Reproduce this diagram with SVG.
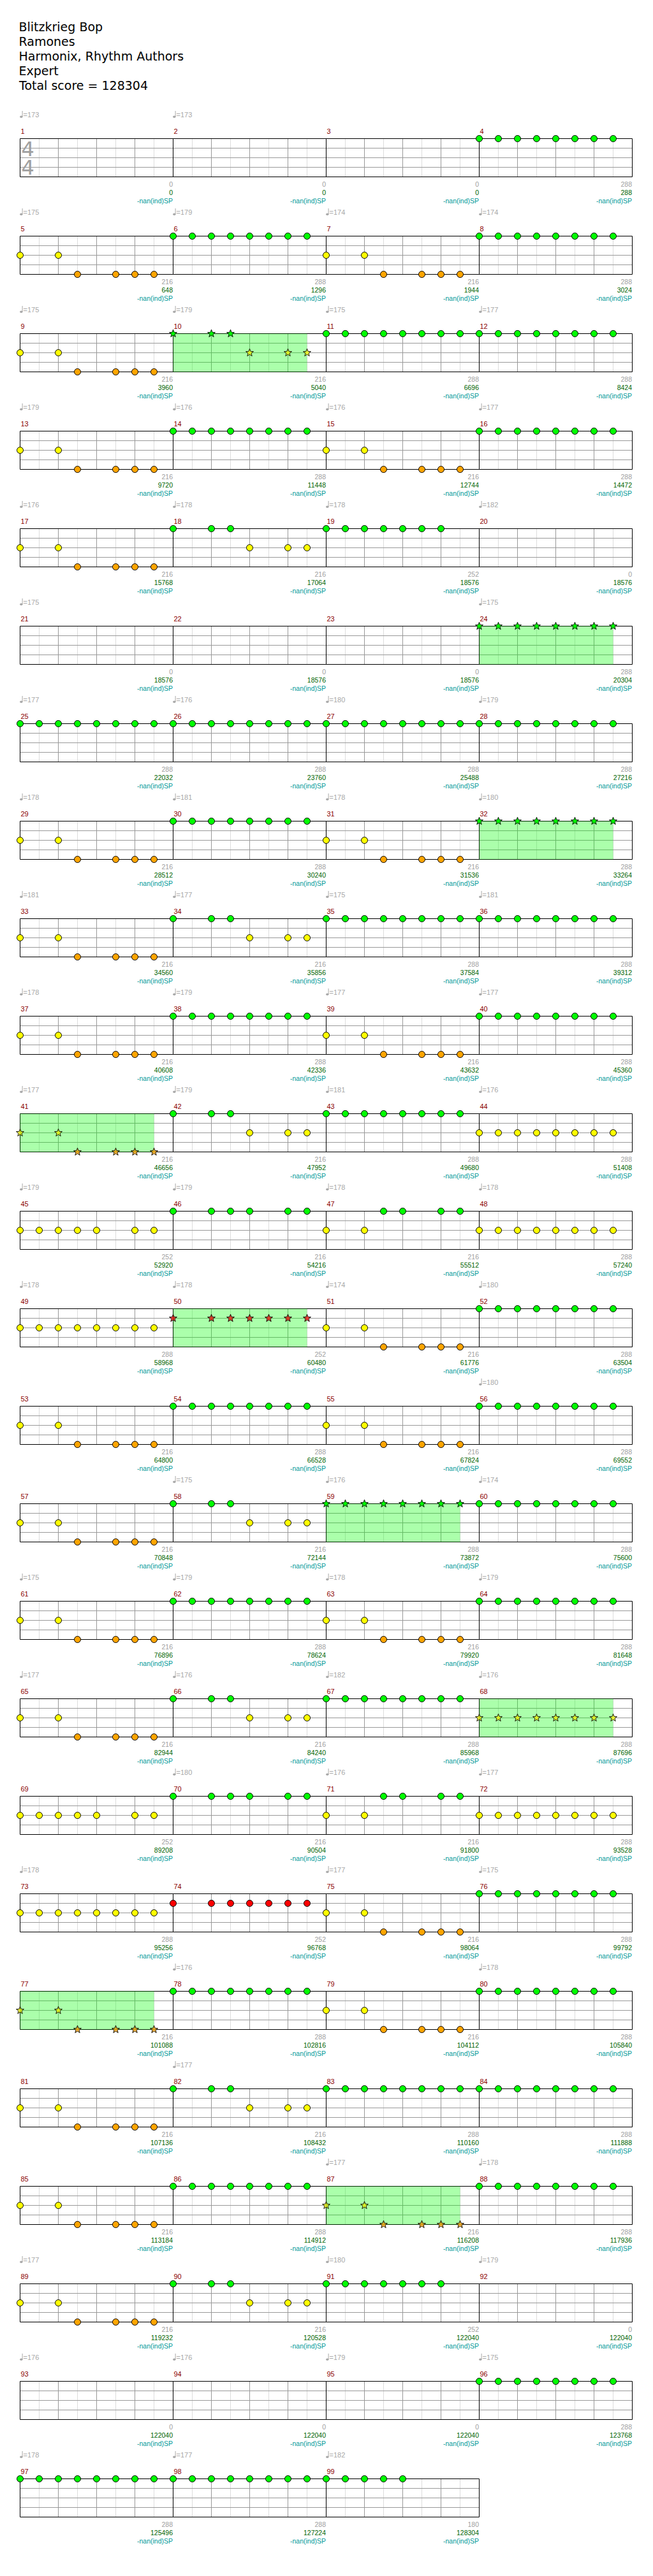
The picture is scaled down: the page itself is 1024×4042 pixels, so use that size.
<svg xmlns="http://www.w3.org/2000/svg" width="1024" height="4042" viewBox="0 0 1024 4042">
<style>
.cg{fill:#00ff00;stroke:#000;stroke-width:1}
.cy{fill:#ffff00;stroke:#000;stroke-width:1}
.co{fill:#ffa500;stroke:#000;stroke-width:1}
.cr{fill:#ff0000;stroke:#000;stroke-width:1}
.sg{fill:#00ff00}
.sy{fill:#ffff00;fill-opacity:.7}
.so{fill:#ffa500;fill-opacity:.75}
.sr{fill:#ff0000;fill-opacity:.7}
.sp{fill:#00ff00;fill-opacity:.33}
.gl{stroke:#dddddd;stroke-width:1;fill:none}
.gm{stroke:#999999;stroke-width:1;fill:none}
.gk{stroke:#000;stroke-width:1;fill:none}
.mn{font-family:"Liberation Sans",Arial,sans-serif;font-size:11px;fill:#8b0000}
.tq{font-family:"Liberation Sans",Arial,sans-serif;font-size:11px;fill:#a8a8a8}
.b1,.b2,.b3{font-family:"Liberation Sans",Arial,sans-serif;font-size:10.5px;text-anchor:end}
.b1{fill:#a0a0a0}
.b2{fill:#006400}
.b3{fill:#009999}
.ts{font-family:"DejaVu Sans",sans-serif;font-size:32px;fill:#a0a0a0}
.hd{font-family:"DejaVu Sans",sans-serif;font-size:19px;fill:#000}
</style>
<defs>
<path id="st" d="M0,-6.3L1.54,-2.12L5.99,-1.95L2.5,0.81L3.7,5.1L0,2.63L-3.7,5.1L-2.5,0.81L-5.99,-1.95L-1.54,-2.12Z" stroke="#000" stroke-width="0.9"/>
<g id="q" fill="#a8a8a8"><ellipse cx="1.8" cy="-34.3" rx="2.2" ry="1.7"/><path d="M3.6,-34.5V-43.5" stroke="#a8a8a8" stroke-width="1"/></g>
<g id="grid">
<path class="gl" d="M30,0V60M90,0V60M150,0V60M210,0V60"/>
<path class="gm" d="M60,0V60M120,0V60M180,0V60M0,15H240M0,30H240M0,45H240"/>
<path class="gk" d="M0,0H240M0,60H240M0,0V60M240,0V60"/>
</g>
<g id="pG8"><circle class="cg" cx="0" cy="0" r="5"/><circle class="cg" cx="30" cy="0" r="5"/><circle class="cg" cx="60" cy="0" r="5"/><circle class="cg" cx="90" cy="0" r="5"/><circle class="cg" cx="120" cy="0" r="5"/><circle class="cg" cx="150" cy="0" r="5"/><circle class="cg" cx="180" cy="0" r="5"/><circle class="cg" cx="210" cy="0" r="5"/></g>
<g id="pG7"><circle class="cg" cx="0" cy="0" r="5"/><circle class="cg" cx="30" cy="0" r="5"/><circle class="cg" cx="60" cy="0" r="5"/><circle class="cg" cx="90" cy="0" r="5"/><circle class="cg" cx="120" cy="0" r="5"/><circle class="cg" cx="150" cy="0" r="5"/><circle class="cg" cx="180" cy="0" r="5"/></g>
<g id="pG5"><circle class="cg" cx="0" cy="0" r="5"/><circle class="cg" cx="30" cy="0" r="5"/><circle class="cg" cx="60" cy="0" r="5"/><circle class="cg" cx="90" cy="0" r="5"/><circle class="cg" cx="120" cy="0" r="5"/></g>
<g id="pA"><circle class="cy" cx="0" cy="30" r="5"/><circle class="cy" cx="60" cy="30" r="5"/><circle class="co" cx="90" cy="60" r="5"/><circle class="co" cx="150" cy="60" r="5"/><circle class="co" cx="180" cy="60" r="5"/><circle class="co" cx="210" cy="60" r="5"/></g>
<g id="pB"><circle class="cg" cx="0" cy="0" r="5"/><circle class="cg" cx="60" cy="0" r="5"/><circle class="cg" cx="90" cy="0" r="5"/><circle class="cy" cx="120" cy="30" r="5"/><circle class="cy" cx="180" cy="30" r="5"/><circle class="cy" cx="210" cy="30" r="5"/></g>
<g id="pY8"><circle class="cy" cx="0" cy="30" r="5"/><circle class="cy" cx="30" cy="30" r="5"/><circle class="cy" cx="60" cy="30" r="5"/><circle class="cy" cx="90" cy="30" r="5"/><circle class="cy" cx="120" cy="30" r="5"/><circle class="cy" cx="150" cy="30" r="5"/><circle class="cy" cx="180" cy="30" r="5"/><circle class="cy" cx="210" cy="30" r="5"/></g>
<g id="pY7"><circle class="cy" cx="0" cy="30" r="5"/><circle class="cy" cx="30" cy="30" r="5"/><circle class="cy" cx="60" cy="30" r="5"/><circle class="cy" cx="90" cy="30" r="5"/><circle class="cy" cx="120" cy="30" r="5"/><circle class="cy" cx="180" cy="30" r="5"/><circle class="cy" cx="210" cy="30" r="5"/></g>
<g id="pC"><circle class="cg" cx="0" cy="0" r="5"/><circle class="cg" cx="60" cy="0" r="5"/><circle class="cg" cx="90" cy="0" r="5"/><circle class="cg" cx="120" cy="0" r="5"/><circle class="cg" cx="180" cy="0" r="5"/><circle class="cg" cx="210" cy="0" r="5"/></g>
<g id="pD"><circle class="cy" cx="0" cy="30" r="5"/><circle class="cy" cx="60" cy="30" r="5"/><circle class="cg" cx="90" cy="0" r="5"/><circle class="cg" cx="120" cy="0" r="5"/><circle class="cg" cx="180" cy="0" r="5"/><circle class="cg" cx="210" cy="0" r="5"/></g>
<g id="pR7"><circle class="cr" cx="0" cy="15" r="5"/><circle class="cr" cx="60" cy="15" r="5"/><circle class="cr" cx="90" cy="15" r="5"/><circle class="cr" cx="120" cy="15" r="5"/><circle class="cr" cx="150" cy="15" r="5"/><circle class="cr" cx="180" cy="15" r="5"/><circle class="cr" cx="210" cy="15" r="5"/></g>
<g id="sA"><rect class="sp" x="0" y="0" width="210" height="60"/><use href="#st" class="sg" x="0" y="0"/><use href="#st" class="sg" x="60" y="0"/><use href="#st" class="sg" x="90" y="0"/><use href="#st" class="sy" x="120" y="30"/><use href="#st" class="sy" x="180" y="30"/><use href="#st" class="sy" x="210" y="30"/></g>
<g id="sG"><rect class="sp" x="0" y="0" width="210" height="60"/><use href="#st" class="sg" x="0" y="0"/><use href="#st" class="sg" x="30" y="0"/><use href="#st" class="sg" x="60" y="0"/><use href="#st" class="sg" x="90" y="0"/><use href="#st" class="sg" x="120" y="0"/><use href="#st" class="sg" x="150" y="0"/><use href="#st" class="sg" x="180" y="0"/><use href="#st" class="sg" x="210" y="0"/></g>
<g id="sY"><rect class="sp" x="0" y="0" width="210" height="60"/><use href="#st" class="sy" x="0" y="30"/><use href="#st" class="sy" x="30" y="30"/><use href="#st" class="sy" x="60" y="30"/><use href="#st" class="sy" x="90" y="30"/><use href="#st" class="sy" x="120" y="30"/><use href="#st" class="sy" x="150" y="30"/><use href="#st" class="sy" x="180" y="30"/><use href="#st" class="sy" x="210" y="30"/></g>
<g id="sO"><rect class="sp" x="0" y="0" width="210" height="60"/><use href="#st" class="sy" x="0" y="30"/><use href="#st" class="sy" x="60" y="30"/><use href="#st" class="so" x="90" y="60"/><use href="#st" class="so" x="150" y="60"/><use href="#st" class="so" x="180" y="60"/><use href="#st" class="so" x="210" y="60"/></g>
<g id="sR"><rect class="sp" x="0" y="0" width="210" height="60"/><use href="#st" class="sr" x="0" y="15"/><use href="#st" class="sr" x="60" y="15"/><use href="#st" class="sr" x="90" y="15"/><use href="#st" class="sr" x="120" y="15"/><use href="#st" class="sr" x="150" y="15"/><use href="#st" class="sr" x="180" y="15"/><use href="#st" class="sr" x="210" y="15"/></g>
</defs>
<rect x="0" y="0" width="1024" height="4042" fill="#fff"/>
<g id="header">
<text class="hd" x="29.5" y="49.3">Blitzkrieg Bop</text>
<text class="hd" x="29.5" y="72">Ramones</text>
<text class="hd" x="29.5" y="95">Harmonix, Rhythm Authors</text>
<text class="hd" x="29.5" y="118">Expert</text>
<text class="hd" x="30" y="140.7">Total score = 128304</text>
</g>
<g id="m1" transform="translate(31.5,217.5)"><use href="#grid"/><text class="ts"><tspan x="2" y="27.5">4</tspan><tspan x="2" y="56.5">4</tspan></text><text class="mn" x="1" y="-7.5">1</text><use href="#q"/><text class="tq" x="5" y="-34">=173</text><text class="b1" x="239.5" y="75.5">0</text><text class="b2" x="239.5" y="88.5">0</text><text class="b3" x="239.5" y="101">-nan(ind)SP</text></g>
<g id="m2" transform="translate(271.5,217.5)"><use href="#grid"/><text class="mn" x="1" y="-7.5">2</text><use href="#q"/><text class="tq" x="5" y="-34">=173</text><text class="b1" x="239.5" y="75.5">0</text><text class="b2" x="239.5" y="88.5">0</text><text class="b3" x="239.5" y="101">-nan(ind)SP</text></g>
<g id="m3" transform="translate(511.5,217.5)"><use href="#grid"/><text class="mn" x="1" y="-7.5">3</text><text class="b1" x="239.5" y="75.5">0</text><text class="b2" x="239.5" y="88.5">0</text><text class="b3" x="239.5" y="101">-nan(ind)SP</text></g>
<g id="m4" transform="translate(751.5,217.5)"><use href="#grid"/><use href="#pG8"/><text class="mn" x="1" y="-7.5">4</text><text class="b1" x="239.5" y="75.5">288</text><text class="b2" x="239.5" y="88.5">288</text><text class="b3" x="239.5" y="101">-nan(ind)SP</text></g>
<g id="m5" transform="translate(31.5,370.5)"><use href="#grid"/><use href="#pA"/><text class="mn" x="1" y="-7.5">5</text><use href="#q"/><text class="tq" x="5" y="-34">=175</text><text class="b1" x="239.5" y="75.5">216</text><text class="b2" x="239.5" y="88.5">648</text><text class="b3" x="239.5" y="101">-nan(ind)SP</text></g>
<g id="m6" transform="translate(271.5,370.5)"><use href="#grid"/><use href="#pG8"/><text class="mn" x="1" y="-7.5">6</text><use href="#q"/><text class="tq" x="5" y="-34">=179</text><text class="b1" x="239.5" y="75.5">288</text><text class="b2" x="239.5" y="88.5">1296</text><text class="b3" x="239.5" y="101">-nan(ind)SP</text></g>
<g id="m7" transform="translate(511.5,370.5)"><use href="#grid"/><use href="#pA"/><text class="mn" x="1" y="-7.5">7</text><use href="#q"/><text class="tq" x="5" y="-34">=174</text><text class="b1" x="239.5" y="75.5">216</text><text class="b2" x="239.5" y="88.5">1944</text><text class="b3" x="239.5" y="101">-nan(ind)SP</text></g>
<g id="m8" transform="translate(751.5,370.5)"><use href="#grid"/><use href="#pG8"/><text class="mn" x="1" y="-7.5">8</text><use href="#q"/><text class="tq" x="5" y="-34">=174</text><text class="b1" x="239.5" y="75.5">288</text><text class="b2" x="239.5" y="88.5">3024</text><text class="b3" x="239.5" y="101">-nan(ind)SP</text></g>
<g id="m9" transform="translate(31.5,523.5)"><use href="#grid"/><use href="#pA"/><text class="mn" x="1" y="-7.5">9</text><use href="#q"/><text class="tq" x="5" y="-34">=175</text><text class="b1" x="239.5" y="75.5">216</text><text class="b2" x="239.5" y="88.5">3960</text><text class="b3" x="239.5" y="101">-nan(ind)SP</text></g>
<g id="m10" transform="translate(271.5,523.5)"><use href="#grid"/><use href="#sA"/><text class="mn" x="1" y="-7.5">10</text><use href="#q"/><text class="tq" x="5" y="-34">=179</text><text class="b1" x="239.5" y="75.5">216</text><text class="b2" x="239.5" y="88.5">5040</text><text class="b3" x="239.5" y="101">-nan(ind)SP</text></g>
<g id="m11" transform="translate(511.5,523.5)"><use href="#grid"/><use href="#pG8"/><text class="mn" x="1" y="-7.5">11</text><use href="#q"/><text class="tq" x="5" y="-34">=175</text><text class="b1" x="239.5" y="75.5">288</text><text class="b2" x="239.5" y="88.5">6696</text><text class="b3" x="239.5" y="101">-nan(ind)SP</text></g>
<g id="m12" transform="translate(751.5,523.5)"><use href="#grid"/><use href="#pG8"/><text class="mn" x="1" y="-7.5">12</text><use href="#q"/><text class="tq" x="5" y="-34">=177</text><text class="b1" x="239.5" y="75.5">288</text><text class="b2" x="239.5" y="88.5">8424</text><text class="b3" x="239.5" y="101">-nan(ind)SP</text></g>
<g id="m13" transform="translate(31.5,676.5)"><use href="#grid"/><use href="#pA"/><text class="mn" x="1" y="-7.5">13</text><use href="#q"/><text class="tq" x="5" y="-34">=179</text><text class="b1" x="239.5" y="75.5">216</text><text class="b2" x="239.5" y="88.5">9720</text><text class="b3" x="239.5" y="101">-nan(ind)SP</text></g>
<g id="m14" transform="translate(271.5,676.5)"><use href="#grid"/><use href="#pG8"/><text class="mn" x="1" y="-7.5">14</text><use href="#q"/><text class="tq" x="5" y="-34">=176</text><text class="b1" x="239.5" y="75.5">288</text><text class="b2" x="239.5" y="88.5">11448</text><text class="b3" x="239.5" y="101">-nan(ind)SP</text></g>
<g id="m15" transform="translate(511.5,676.5)"><use href="#grid"/><use href="#pA"/><text class="mn" x="1" y="-7.5">15</text><use href="#q"/><text class="tq" x="5" y="-34">=176</text><text class="b1" x="239.5" y="75.5">216</text><text class="b2" x="239.5" y="88.5">12744</text><text class="b3" x="239.5" y="101">-nan(ind)SP</text></g>
<g id="m16" transform="translate(751.5,676.5)"><use href="#grid"/><use href="#pG8"/><text class="mn" x="1" y="-7.5">16</text><use href="#q"/><text class="tq" x="5" y="-34">=177</text><text class="b1" x="239.5" y="75.5">288</text><text class="b2" x="239.5" y="88.5">14472</text><text class="b3" x="239.5" y="101">-nan(ind)SP</text></g>
<g id="m17" transform="translate(31.5,829.5)"><use href="#grid"/><use href="#pA"/><text class="mn" x="1" y="-7.5">17</text><use href="#q"/><text class="tq" x="5" y="-34">=176</text><text class="b1" x="239.5" y="75.5">216</text><text class="b2" x="239.5" y="88.5">15768</text><text class="b3" x="239.5" y="101">-nan(ind)SP</text></g>
<g id="m18" transform="translate(271.5,829.5)"><use href="#grid"/><use href="#pB"/><text class="mn" x="1" y="-7.5">18</text><use href="#q"/><text class="tq" x="5" y="-34">=178</text><text class="b1" x="239.5" y="75.5">216</text><text class="b2" x="239.5" y="88.5">17064</text><text class="b3" x="239.5" y="101">-nan(ind)SP</text></g>
<g id="m19" transform="translate(511.5,829.5)"><use href="#grid"/><use href="#pG7"/><text class="mn" x="1" y="-7.5">19</text><use href="#q"/><text class="tq" x="5" y="-34">=178</text><text class="b1" x="239.5" y="75.5">252</text><text class="b2" x="239.5" y="88.5">18576</text><text class="b3" x="239.5" y="101">-nan(ind)SP</text></g>
<g id="m20" transform="translate(751.5,829.5)"><use href="#grid"/><text class="mn" x="1" y="-7.5">20</text><use href="#q"/><text class="tq" x="5" y="-34">=182</text><text class="b1" x="239.5" y="75.5">0</text><text class="b2" x="239.5" y="88.5">18576</text><text class="b3" x="239.5" y="101">-nan(ind)SP</text></g>
<g id="m21" transform="translate(31.5,982.5)"><use href="#grid"/><text class="mn" x="1" y="-7.5">21</text><use href="#q"/><text class="tq" x="5" y="-34">=175</text><text class="b1" x="239.5" y="75.5">0</text><text class="b2" x="239.5" y="88.5">18576</text><text class="b3" x="239.5" y="101">-nan(ind)SP</text></g>
<g id="m22" transform="translate(271.5,982.5)"><use href="#grid"/><text class="mn" x="1" y="-7.5">22</text><text class="b1" x="239.5" y="75.5">0</text><text class="b2" x="239.5" y="88.5">18576</text><text class="b3" x="239.5" y="101">-nan(ind)SP</text></g>
<g id="m23" transform="translate(511.5,982.5)"><use href="#grid"/><text class="mn" x="1" y="-7.5">23</text><text class="b1" x="239.5" y="75.5">0</text><text class="b2" x="239.5" y="88.5">18576</text><text class="b3" x="239.5" y="101">-nan(ind)SP</text></g>
<g id="m24" transform="translate(751.5,982.5)"><use href="#grid"/><use href="#sG"/><text class="mn" x="1" y="-7.5">24</text><use href="#q"/><text class="tq" x="5" y="-34">=175</text><text class="b1" x="239.5" y="75.5">288</text><text class="b2" x="239.5" y="88.5">20304</text><text class="b3" x="239.5" y="101">-nan(ind)SP</text></g>
<g id="m25" transform="translate(31.5,1135.5)"><use href="#grid"/><use href="#pG8"/><text class="mn" x="1" y="-7.5">25</text><use href="#q"/><text class="tq" x="5" y="-34">=177</text><text class="b1" x="239.5" y="75.5">288</text><text class="b2" x="239.5" y="88.5">22032</text><text class="b3" x="239.5" y="101">-nan(ind)SP</text></g>
<g id="m26" transform="translate(271.5,1135.5)"><use href="#grid"/><use href="#pG8"/><text class="mn" x="1" y="-7.5">26</text><use href="#q"/><text class="tq" x="5" y="-34">=176</text><text class="b1" x="239.5" y="75.5">288</text><text class="b2" x="239.5" y="88.5">23760</text><text class="b3" x="239.5" y="101">-nan(ind)SP</text></g>
<g id="m27" transform="translate(511.5,1135.5)"><use href="#grid"/><use href="#pG8"/><text class="mn" x="1" y="-7.5">27</text><use href="#q"/><text class="tq" x="5" y="-34">=180</text><text class="b1" x="239.5" y="75.5">288</text><text class="b2" x="239.5" y="88.5">25488</text><text class="b3" x="239.5" y="101">-nan(ind)SP</text></g>
<g id="m28" transform="translate(751.5,1135.5)"><use href="#grid"/><use href="#pG8"/><text class="mn" x="1" y="-7.5">28</text><use href="#q"/><text class="tq" x="5" y="-34">=179</text><text class="b1" x="239.5" y="75.5">288</text><text class="b2" x="239.5" y="88.5">27216</text><text class="b3" x="239.5" y="101">-nan(ind)SP</text></g>
<g id="m29" transform="translate(31.5,1288.5)"><use href="#grid"/><use href="#pA"/><text class="mn" x="1" y="-7.5">29</text><use href="#q"/><text class="tq" x="5" y="-34">=178</text><text class="b1" x="239.5" y="75.5">216</text><text class="b2" x="239.5" y="88.5">28512</text><text class="b3" x="239.5" y="101">-nan(ind)SP</text></g>
<g id="m30" transform="translate(271.5,1288.5)"><use href="#grid"/><use href="#pG8"/><text class="mn" x="1" y="-7.5">30</text><use href="#q"/><text class="tq" x="5" y="-34">=181</text><text class="b1" x="239.5" y="75.5">288</text><text class="b2" x="239.5" y="88.5">30240</text><text class="b3" x="239.5" y="101">-nan(ind)SP</text></g>
<g id="m31" transform="translate(511.5,1288.5)"><use href="#grid"/><use href="#pA"/><text class="mn" x="1" y="-7.5">31</text><use href="#q"/><text class="tq" x="5" y="-34">=178</text><text class="b1" x="239.5" y="75.5">216</text><text class="b2" x="239.5" y="88.5">31536</text><text class="b3" x="239.5" y="101">-nan(ind)SP</text></g>
<g id="m32" transform="translate(751.5,1288.5)"><use href="#grid"/><use href="#sG"/><text class="mn" x="1" y="-7.5">32</text><use href="#q"/><text class="tq" x="5" y="-34">=180</text><text class="b1" x="239.5" y="75.5">288</text><text class="b2" x="239.5" y="88.5">33264</text><text class="b3" x="239.5" y="101">-nan(ind)SP</text></g>
<g id="m33" transform="translate(31.5,1441.5)"><use href="#grid"/><use href="#pA"/><text class="mn" x="1" y="-7.5">33</text><use href="#q"/><text class="tq" x="5" y="-34">=181</text><text class="b1" x="239.5" y="75.5">216</text><text class="b2" x="239.5" y="88.5">34560</text><text class="b3" x="239.5" y="101">-nan(ind)SP</text></g>
<g id="m34" transform="translate(271.5,1441.5)"><use href="#grid"/><use href="#pB"/><text class="mn" x="1" y="-7.5">34</text><use href="#q"/><text class="tq" x="5" y="-34">=177</text><text class="b1" x="239.5" y="75.5">216</text><text class="b2" x="239.5" y="88.5">35856</text><text class="b3" x="239.5" y="101">-nan(ind)SP</text></g>
<g id="m35" transform="translate(511.5,1441.5)"><use href="#grid"/><use href="#pG8"/><text class="mn" x="1" y="-7.5">35</text><use href="#q"/><text class="tq" x="5" y="-34">=175</text><text class="b1" x="239.5" y="75.5">288</text><text class="b2" x="239.5" y="88.5">37584</text><text class="b3" x="239.5" y="101">-nan(ind)SP</text></g>
<g id="m36" transform="translate(751.5,1441.5)"><use href="#grid"/><use href="#pG8"/><text class="mn" x="1" y="-7.5">36</text><use href="#q"/><text class="tq" x="5" y="-34">=181</text><text class="b1" x="239.5" y="75.5">288</text><text class="b2" x="239.5" y="88.5">39312</text><text class="b3" x="239.5" y="101">-nan(ind)SP</text></g>
<g id="m37" transform="translate(31.5,1594.5)"><use href="#grid"/><use href="#pA"/><text class="mn" x="1" y="-7.5">37</text><use href="#q"/><text class="tq" x="5" y="-34">=178</text><text class="b1" x="239.5" y="75.5">216</text><text class="b2" x="239.5" y="88.5">40608</text><text class="b3" x="239.5" y="101">-nan(ind)SP</text></g>
<g id="m38" transform="translate(271.5,1594.5)"><use href="#grid"/><use href="#pG8"/><text class="mn" x="1" y="-7.5">38</text><use href="#q"/><text class="tq" x="5" y="-34">=179</text><text class="b1" x="239.5" y="75.5">288</text><text class="b2" x="239.5" y="88.5">42336</text><text class="b3" x="239.5" y="101">-nan(ind)SP</text></g>
<g id="m39" transform="translate(511.5,1594.5)"><use href="#grid"/><use href="#pA"/><text class="mn" x="1" y="-7.5">39</text><use href="#q"/><text class="tq" x="5" y="-34">=177</text><text class="b1" x="239.5" y="75.5">216</text><text class="b2" x="239.5" y="88.5">43632</text><text class="b3" x="239.5" y="101">-nan(ind)SP</text></g>
<g id="m40" transform="translate(751.5,1594.5)"><use href="#grid"/><use href="#pG8"/><text class="mn" x="1" y="-7.5">40</text><use href="#q"/><text class="tq" x="5" y="-34">=177</text><text class="b1" x="239.5" y="75.5">288</text><text class="b2" x="239.5" y="88.5">45360</text><text class="b3" x="239.5" y="101">-nan(ind)SP</text></g>
<g id="m41" transform="translate(31.5,1747.5)"><use href="#grid"/><use href="#sO"/><text class="mn" x="1" y="-7.5">41</text><use href="#q"/><text class="tq" x="5" y="-34">=177</text><text class="b1" x="239.5" y="75.5">216</text><text class="b2" x="239.5" y="88.5">46656</text><text class="b3" x="239.5" y="101">-nan(ind)SP</text></g>
<g id="m42" transform="translate(271.5,1747.5)"><use href="#grid"/><use href="#pB"/><text class="mn" x="1" y="-7.5">42</text><use href="#q"/><text class="tq" x="5" y="-34">=179</text><text class="b1" x="239.5" y="75.5">216</text><text class="b2" x="239.5" y="88.5">47952</text><text class="b3" x="239.5" y="101">-nan(ind)SP</text></g>
<g id="m43" transform="translate(511.5,1747.5)"><use href="#grid"/><use href="#pG8"/><text class="mn" x="1" y="-7.5">43</text><use href="#q"/><text class="tq" x="5" y="-34">=181</text><text class="b1" x="239.5" y="75.5">288</text><text class="b2" x="239.5" y="88.5">49680</text><text class="b3" x="239.5" y="101">-nan(ind)SP</text></g>
<g id="m44" transform="translate(751.5,1747.5)"><use href="#grid"/><use href="#pY8"/><text class="mn" x="1" y="-7.5">44</text><use href="#q"/><text class="tq" x="5" y="-34">=176</text><text class="b1" x="239.5" y="75.5">288</text><text class="b2" x="239.5" y="88.5">51408</text><text class="b3" x="239.5" y="101">-nan(ind)SP</text></g>
<g id="m45" transform="translate(31.5,1900.5)"><use href="#grid"/><use href="#pY7"/><text class="mn" x="1" y="-7.5">45</text><use href="#q"/><text class="tq" x="5" y="-34">=179</text><text class="b1" x="239.5" y="75.5">252</text><text class="b2" x="239.5" y="88.5">52920</text><text class="b3" x="239.5" y="101">-nan(ind)SP</text></g>
<g id="m46" transform="translate(271.5,1900.5)"><use href="#grid"/><use href="#pC"/><text class="mn" x="1" y="-7.5">46</text><use href="#q"/><text class="tq" x="5" y="-34">=179</text><text class="b1" x="239.5" y="75.5">216</text><text class="b2" x="239.5" y="88.5">54216</text><text class="b3" x="239.5" y="101">-nan(ind)SP</text></g>
<g id="m47" transform="translate(511.5,1900.5)"><use href="#grid"/><use href="#pD"/><text class="mn" x="1" y="-7.5">47</text><use href="#q"/><text class="tq" x="5" y="-34">=178</text><text class="b1" x="239.5" y="75.5">216</text><text class="b2" x="239.5" y="88.5">55512</text><text class="b3" x="239.5" y="101">-nan(ind)SP</text></g>
<g id="m48" transform="translate(751.5,1900.5)"><use href="#grid"/><use href="#pY8"/><text class="mn" x="1" y="-7.5">48</text><use href="#q"/><text class="tq" x="5" y="-34">=178</text><text class="b1" x="239.5" y="75.5">288</text><text class="b2" x="239.5" y="88.5">57240</text><text class="b3" x="239.5" y="101">-nan(ind)SP</text></g>
<g id="m49" transform="translate(31.5,2053.5)"><use href="#grid"/><use href="#pY8"/><text class="mn" x="1" y="-7.5">49</text><use href="#q"/><text class="tq" x="5" y="-34">=178</text><text class="b1" x="239.5" y="75.5">288</text><text class="b2" x="239.5" y="88.5">58968</text><text class="b3" x="239.5" y="101">-nan(ind)SP</text></g>
<g id="m50" transform="translate(271.5,2053.5)"><use href="#grid"/><use href="#sR"/><text class="mn" x="1" y="-7.5">50</text><use href="#q"/><text class="tq" x="5" y="-34">=178</text><text class="b1" x="239.5" y="75.5">252</text><text class="b2" x="239.5" y="88.5">60480</text><text class="b3" x="239.5" y="101">-nan(ind)SP</text></g>
<g id="m51" transform="translate(511.5,2053.5)"><use href="#grid"/><use href="#pA"/><text class="mn" x="1" y="-7.5">51</text><use href="#q"/><text class="tq" x="5" y="-34">=174</text><text class="b1" x="239.5" y="75.5">216</text><text class="b2" x="239.5" y="88.5">61776</text><text class="b3" x="239.5" y="101">-nan(ind)SP</text></g>
<g id="m52" transform="translate(751.5,2053.5)"><use href="#grid"/><use href="#pG8"/><text class="mn" x="1" y="-7.5">52</text><use href="#q"/><text class="tq" x="5" y="-34">=180</text><text class="b1" x="239.5" y="75.5">288</text><text class="b2" x="239.5" y="88.5">63504</text><text class="b3" x="239.5" y="101">-nan(ind)SP</text></g>
<g id="m53" transform="translate(31.5,2206.5)"><use href="#grid"/><use href="#pA"/><text class="mn" x="1" y="-7.5">53</text><text class="b1" x="239.5" y="75.5">216</text><text class="b2" x="239.5" y="88.5">64800</text><text class="b3" x="239.5" y="101">-nan(ind)SP</text></g>
<g id="m54" transform="translate(271.5,2206.5)"><use href="#grid"/><use href="#pG8"/><text class="mn" x="1" y="-7.5">54</text><text class="b1" x="239.5" y="75.5">288</text><text class="b2" x="239.5" y="88.5">66528</text><text class="b3" x="239.5" y="101">-nan(ind)SP</text></g>
<g id="m55" transform="translate(511.5,2206.5)"><use href="#grid"/><use href="#pA"/><text class="mn" x="1" y="-7.5">55</text><text class="b1" x="239.5" y="75.5">216</text><text class="b2" x="239.5" y="88.5">67824</text><text class="b3" x="239.5" y="101">-nan(ind)SP</text></g>
<g id="m56" transform="translate(751.5,2206.5)"><use href="#grid"/><use href="#pG8"/><text class="mn" x="1" y="-7.5">56</text><use href="#q"/><text class="tq" x="5" y="-34">=180</text><text class="b1" x="239.5" y="75.5">288</text><text class="b2" x="239.5" y="88.5">69552</text><text class="b3" x="239.5" y="101">-nan(ind)SP</text></g>
<g id="m57" transform="translate(31.5,2359.5)"><use href="#grid"/><use href="#pA"/><text class="mn" x="1" y="-7.5">57</text><text class="b1" x="239.5" y="75.5">216</text><text class="b2" x="239.5" y="88.5">70848</text><text class="b3" x="239.5" y="101">-nan(ind)SP</text></g>
<g id="m58" transform="translate(271.5,2359.5)"><use href="#grid"/><use href="#pB"/><text class="mn" x="1" y="-7.5">58</text><use href="#q"/><text class="tq" x="5" y="-34">=175</text><text class="b1" x="239.5" y="75.5">216</text><text class="b2" x="239.5" y="88.5">72144</text><text class="b3" x="239.5" y="101">-nan(ind)SP</text></g>
<g id="m59" transform="translate(511.5,2359.5)"><use href="#grid"/><use href="#sG"/><text class="mn" x="1" y="-7.5">59</text><use href="#q"/><text class="tq" x="5" y="-34">=176</text><text class="b1" x="239.5" y="75.5">288</text><text class="b2" x="239.5" y="88.5">73872</text><text class="b3" x="239.5" y="101">-nan(ind)SP</text></g>
<g id="m60" transform="translate(751.5,2359.5)"><use href="#grid"/><use href="#pG8"/><text class="mn" x="1" y="-7.5">60</text><use href="#q"/><text class="tq" x="5" y="-34">=174</text><text class="b1" x="239.5" y="75.5">288</text><text class="b2" x="239.5" y="88.5">75600</text><text class="b3" x="239.5" y="101">-nan(ind)SP</text></g>
<g id="m61" transform="translate(31.5,2512.5)"><use href="#grid"/><use href="#pA"/><text class="mn" x="1" y="-7.5">61</text><use href="#q"/><text class="tq" x="5" y="-34">=175</text><text class="b1" x="239.5" y="75.5">216</text><text class="b2" x="239.5" y="88.5">76896</text><text class="b3" x="239.5" y="101">-nan(ind)SP</text></g>
<g id="m62" transform="translate(271.5,2512.5)"><use href="#grid"/><use href="#pG8"/><text class="mn" x="1" y="-7.5">62</text><use href="#q"/><text class="tq" x="5" y="-34">=179</text><text class="b1" x="239.5" y="75.5">288</text><text class="b2" x="239.5" y="88.5">78624</text><text class="b3" x="239.5" y="101">-nan(ind)SP</text></g>
<g id="m63" transform="translate(511.5,2512.5)"><use href="#grid"/><use href="#pA"/><text class="mn" x="1" y="-7.5">63</text><use href="#q"/><text class="tq" x="5" y="-34">=178</text><text class="b1" x="239.5" y="75.5">216</text><text class="b2" x="239.5" y="88.5">79920</text><text class="b3" x="239.5" y="101">-nan(ind)SP</text></g>
<g id="m64" transform="translate(751.5,2512.5)"><use href="#grid"/><use href="#pG8"/><text class="mn" x="1" y="-7.5">64</text><use href="#q"/><text class="tq" x="5" y="-34">=179</text><text class="b1" x="239.5" y="75.5">288</text><text class="b2" x="239.5" y="88.5">81648</text><text class="b3" x="239.5" y="101">-nan(ind)SP</text></g>
<g id="m65" transform="translate(31.5,2665.5)"><use href="#grid"/><use href="#pA"/><text class="mn" x="1" y="-7.5">65</text><use href="#q"/><text class="tq" x="5" y="-34">=177</text><text class="b1" x="239.5" y="75.5">216</text><text class="b2" x="239.5" y="88.5">82944</text><text class="b3" x="239.5" y="101">-nan(ind)SP</text></g>
<g id="m66" transform="translate(271.5,2665.5)"><use href="#grid"/><use href="#pB"/><text class="mn" x="1" y="-7.5">66</text><use href="#q"/><text class="tq" x="5" y="-34">=176</text><text class="b1" x="239.5" y="75.5">216</text><text class="b2" x="239.5" y="88.5">84240</text><text class="b3" x="239.5" y="101">-nan(ind)SP</text></g>
<g id="m67" transform="translate(511.5,2665.5)"><use href="#grid"/><use href="#pG8"/><text class="mn" x="1" y="-7.5">67</text><use href="#q"/><text class="tq" x="5" y="-34">=182</text><text class="b1" x="239.5" y="75.5">288</text><text class="b2" x="239.5" y="88.5">85968</text><text class="b3" x="239.5" y="101">-nan(ind)SP</text></g>
<g id="m68" transform="translate(751.5,2665.5)"><use href="#grid"/><use href="#sY"/><text class="mn" x="1" y="-7.5">68</text><use href="#q"/><text class="tq" x="5" y="-34">=176</text><text class="b1" x="239.5" y="75.5">288</text><text class="b2" x="239.5" y="88.5">87696</text><text class="b3" x="239.5" y="101">-nan(ind)SP</text></g>
<g id="m69" transform="translate(31.5,2818.5)"><use href="#grid"/><use href="#pY7"/><text class="mn" x="1" y="-7.5">69</text><text class="b1" x="239.5" y="75.5">252</text><text class="b2" x="239.5" y="88.5">89208</text><text class="b3" x="239.5" y="101">-nan(ind)SP</text></g>
<g id="m70" transform="translate(271.5,2818.5)"><use href="#grid"/><use href="#pC"/><text class="mn" x="1" y="-7.5">70</text><use href="#q"/><text class="tq" x="5" y="-34">=180</text><text class="b1" x="239.5" y="75.5">216</text><text class="b2" x="239.5" y="88.5">90504</text><text class="b3" x="239.5" y="101">-nan(ind)SP</text></g>
<g id="m71" transform="translate(511.5,2818.5)"><use href="#grid"/><use href="#pD"/><text class="mn" x="1" y="-7.5">71</text><use href="#q"/><text class="tq" x="5" y="-34">=176</text><text class="b1" x="239.5" y="75.5">216</text><text class="b2" x="239.5" y="88.5">91800</text><text class="b3" x="239.5" y="101">-nan(ind)SP</text></g>
<g id="m72" transform="translate(751.5,2818.5)"><use href="#grid"/><use href="#pY8"/><text class="mn" x="1" y="-7.5">72</text><use href="#q"/><text class="tq" x="5" y="-34">=177</text><text class="b1" x="239.5" y="75.5">288</text><text class="b2" x="239.5" y="88.5">93528</text><text class="b3" x="239.5" y="101">-nan(ind)SP</text></g>
<g id="m73" transform="translate(31.5,2971.5)"><use href="#grid"/><use href="#pY8"/><text class="mn" x="1" y="-7.5">73</text><use href="#q"/><text class="tq" x="5" y="-34">=178</text><text class="b1" x="239.5" y="75.5">288</text><text class="b2" x="239.5" y="88.5">95256</text><text class="b3" x="239.5" y="101">-nan(ind)SP</text></g>
<g id="m74" transform="translate(271.5,2971.5)"><use href="#grid"/><use href="#pR7"/><text class="mn" x="1" y="-7.5">74</text><text class="b1" x="239.5" y="75.5">252</text><text class="b2" x="239.5" y="88.5">96768</text><text class="b3" x="239.5" y="101">-nan(ind)SP</text></g>
<g id="m75" transform="translate(511.5,2971.5)"><use href="#grid"/><use href="#pA"/><text class="mn" x="1" y="-7.5">75</text><use href="#q"/><text class="tq" x="5" y="-34">=177</text><text class="b1" x="239.5" y="75.5">216</text><text class="b2" x="239.5" y="88.5">98064</text><text class="b3" x="239.5" y="101">-nan(ind)SP</text></g>
<g id="m76" transform="translate(751.5,2971.5)"><use href="#grid"/><use href="#pG8"/><text class="mn" x="1" y="-7.5">76</text><use href="#q"/><text class="tq" x="5" y="-34">=175</text><text class="b1" x="239.5" y="75.5">288</text><text class="b2" x="239.5" y="88.5">99792</text><text class="b3" x="239.5" y="101">-nan(ind)SP</text></g>
<g id="m77" transform="translate(31.5,3124.5)"><use href="#grid"/><use href="#sO"/><text class="mn" x="1" y="-7.5">77</text><text class="b1" x="239.5" y="75.5">216</text><text class="b2" x="239.5" y="88.5">101088</text><text class="b3" x="239.5" y="101">-nan(ind)SP</text></g>
<g id="m78" transform="translate(271.5,3124.5)"><use href="#grid"/><use href="#pG8"/><text class="mn" x="1" y="-7.5">78</text><use href="#q"/><text class="tq" x="5" y="-34">=176</text><text class="b1" x="239.5" y="75.5">288</text><text class="b2" x="239.5" y="88.5">102816</text><text class="b3" x="239.5" y="101">-nan(ind)SP</text></g>
<g id="m79" transform="translate(511.5,3124.5)"><use href="#grid"/><use href="#pA"/><text class="mn" x="1" y="-7.5">79</text><text class="b1" x="239.5" y="75.5">216</text><text class="b2" x="239.5" y="88.5">104112</text><text class="b3" x="239.5" y="101">-nan(ind)SP</text></g>
<g id="m80" transform="translate(751.5,3124.5)"><use href="#grid"/><use href="#pG8"/><text class="mn" x="1" y="-7.5">80</text><use href="#q"/><text class="tq" x="5" y="-34">=178</text><text class="b1" x="239.5" y="75.5">288</text><text class="b2" x="239.5" y="88.5">105840</text><text class="b3" x="239.5" y="101">-nan(ind)SP</text></g>
<g id="m81" transform="translate(31.5,3277.5)"><use href="#grid"/><use href="#pA"/><text class="mn" x="1" y="-7.5">81</text><text class="b1" x="239.5" y="75.5">216</text><text class="b2" x="239.5" y="88.5">107136</text><text class="b3" x="239.5" y="101">-nan(ind)SP</text></g>
<g id="m82" transform="translate(271.5,3277.5)"><use href="#grid"/><use href="#pB"/><text class="mn" x="1" y="-7.5">82</text><use href="#q"/><text class="tq" x="5" y="-34">=177</text><text class="b1" x="239.5" y="75.5">216</text><text class="b2" x="239.5" y="88.5">108432</text><text class="b3" x="239.5" y="101">-nan(ind)SP</text></g>
<g id="m83" transform="translate(511.5,3277.5)"><use href="#grid"/><use href="#pG8"/><text class="mn" x="1" y="-7.5">83</text><text class="b1" x="239.5" y="75.5">288</text><text class="b2" x="239.5" y="88.5">110160</text><text class="b3" x="239.5" y="101">-nan(ind)SP</text></g>
<g id="m84" transform="translate(751.5,3277.5)"><use href="#grid"/><use href="#pG8"/><text class="mn" x="1" y="-7.5">84</text><text class="b1" x="239.5" y="75.5">288</text><text class="b2" x="239.5" y="88.5">111888</text><text class="b3" x="239.5" y="101">-nan(ind)SP</text></g>
<g id="m85" transform="translate(31.5,3430.5)"><use href="#grid"/><use href="#pA"/><text class="mn" x="1" y="-7.5">85</text><text class="b1" x="239.5" y="75.5">216</text><text class="b2" x="239.5" y="88.5">113184</text><text class="b3" x="239.5" y="101">-nan(ind)SP</text></g>
<g id="m86" transform="translate(271.5,3430.5)"><use href="#grid"/><use href="#pG8"/><text class="mn" x="1" y="-7.5">86</text><text class="b1" x="239.5" y="75.5">288</text><text class="b2" x="239.5" y="88.5">114912</text><text class="b3" x="239.5" y="101">-nan(ind)SP</text></g>
<g id="m87" transform="translate(511.5,3430.5)"><use href="#grid"/><use href="#sO"/><text class="mn" x="1" y="-7.5">87</text><use href="#q"/><text class="tq" x="5" y="-34">=177</text><text class="b1" x="239.5" y="75.5">216</text><text class="b2" x="239.5" y="88.5">116208</text><text class="b3" x="239.5" y="101">-nan(ind)SP</text></g>
<g id="m88" transform="translate(751.5,3430.5)"><use href="#grid"/><use href="#pG8"/><text class="mn" x="1" y="-7.5">88</text><use href="#q"/><text class="tq" x="5" y="-34">=178</text><text class="b1" x="239.5" y="75.5">288</text><text class="b2" x="239.5" y="88.5">117936</text><text class="b3" x="239.5" y="101">-nan(ind)SP</text></g>
<g id="m89" transform="translate(31.5,3583.5)"><use href="#grid"/><use href="#pA"/><text class="mn" x="1" y="-7.5">89</text><use href="#q"/><text class="tq" x="5" y="-34">=177</text><text class="b1" x="239.5" y="75.5">216</text><text class="b2" x="239.5" y="88.5">119232</text><text class="b3" x="239.5" y="101">-nan(ind)SP</text></g>
<g id="m90" transform="translate(271.5,3583.5)"><use href="#grid"/><use href="#pB"/><text class="mn" x="1" y="-7.5">90</text><text class="b1" x="239.5" y="75.5">216</text><text class="b2" x="239.5" y="88.5">120528</text><text class="b3" x="239.5" y="101">-nan(ind)SP</text></g>
<g id="m91" transform="translate(511.5,3583.5)"><use href="#grid"/><use href="#pG7"/><text class="mn" x="1" y="-7.5">91</text><use href="#q"/><text class="tq" x="5" y="-34">=180</text><text class="b1" x="239.5" y="75.5">252</text><text class="b2" x="239.5" y="88.5">122040</text><text class="b3" x="239.5" y="101">-nan(ind)SP</text></g>
<g id="m92" transform="translate(751.5,3583.5)"><use href="#grid"/><text class="mn" x="1" y="-7.5">92</text><use href="#q"/><text class="tq" x="5" y="-34">=179</text><text class="b1" x="239.5" y="75.5">0</text><text class="b2" x="239.5" y="88.5">122040</text><text class="b3" x="239.5" y="101">-nan(ind)SP</text></g>
<g id="m93" transform="translate(31.5,3736.5)"><use href="#grid"/><text class="mn" x="1" y="-7.5">93</text><use href="#q"/><text class="tq" x="5" y="-34">=176</text><text class="b1" x="239.5" y="75.5">0</text><text class="b2" x="239.5" y="88.5">122040</text><text class="b3" x="239.5" y="101">-nan(ind)SP</text></g>
<g id="m94" transform="translate(271.5,3736.5)"><use href="#grid"/><text class="mn" x="1" y="-7.5">94</text><use href="#q"/><text class="tq" x="5" y="-34">=176</text><text class="b1" x="239.5" y="75.5">0</text><text class="b2" x="239.5" y="88.5">122040</text><text class="b3" x="239.5" y="101">-nan(ind)SP</text></g>
<g id="m95" transform="translate(511.5,3736.5)"><use href="#grid"/><text class="mn" x="1" y="-7.5">95</text><use href="#q"/><text class="tq" x="5" y="-34">=179</text><text class="b1" x="239.5" y="75.5">0</text><text class="b2" x="239.5" y="88.5">122040</text><text class="b3" x="239.5" y="101">-nan(ind)SP</text></g>
<g id="m96" transform="translate(751.5,3736.5)"><use href="#grid"/><use href="#pG8"/><text class="mn" x="1" y="-7.5">96</text><use href="#q"/><text class="tq" x="5" y="-34">=175</text><text class="b1" x="239.5" y="75.5">288</text><text class="b2" x="239.5" y="88.5">123768</text><text class="b3" x="239.5" y="101">-nan(ind)SP</text></g>
<g id="m97" transform="translate(31.5,3889.5)"><use href="#grid"/><use href="#pG8"/><text class="mn" x="1" y="-7.5">97</text><use href="#q"/><text class="tq" x="5" y="-34">=178</text><text class="b1" x="239.5" y="75.5">288</text><text class="b2" x="239.5" y="88.5">125496</text><text class="b3" x="239.5" y="101">-nan(ind)SP</text></g>
<g id="m98" transform="translate(271.5,3889.5)"><use href="#grid"/><use href="#pG8"/><text class="mn" x="1" y="-7.5">98</text><use href="#q"/><text class="tq" x="5" y="-34">=177</text><text class="b1" x="239.5" y="75.5">288</text><text class="b2" x="239.5" y="88.5">127224</text><text class="b3" x="239.5" y="101">-nan(ind)SP</text></g>
<g id="m99" transform="translate(511.5,3889.5)"><use href="#grid"/><use href="#pG5"/><text class="mn" x="1" y="-7.5">99</text><use href="#q"/><text class="tq" x="5" y="-34">=182</text><text class="b1" x="239.5" y="75.5">180</text><text class="b2" x="239.5" y="88.5">128304</text><text class="b3" x="239.5" y="101">-nan(ind)SP</text></g>
</svg>
